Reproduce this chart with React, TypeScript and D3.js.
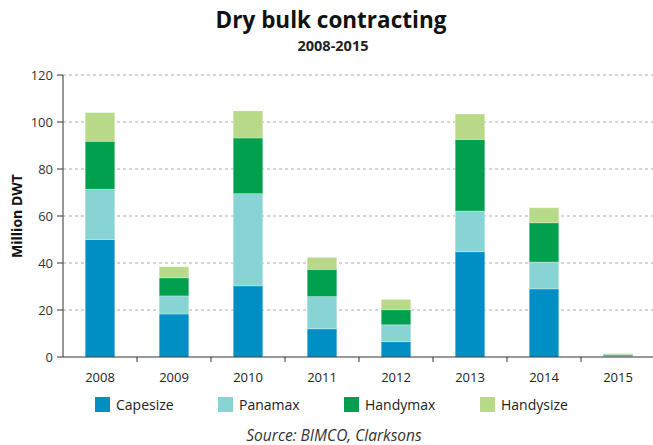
import React from "react";
import * as d3 from "d3";

const years = ["2008", "2009", "2010", "2011", "2012", "2013", "2014", "2015"];
const capesize = [50, 18.3, 30.3, 12, 6.5, 44.8, 29, 0.3];
const panamax = [21.4, 7.7, 39.2, 13.7, 7.2, 17.3, 11.4, 0.2];
const handymax = [20.4, 7.7, 23.7, 11.6, 6.4, 30.5, 16.7, 0.6];
const handysize = [12.2, 4.7, 11.5, 5.1, 4.4, 10.8, 6.4, 0.3];
const seriesNames = ["Capesize", "Panamax", "Handymax", "Handysize"];
const colors = ["#008FC5", "#88D3D3", "#00A04F", "#B8D987"];
const yTicks = [0, 20, 40, 60, 80, 100, 120];

const W = 653, H = 445;
const m = { left: 63, right: 655, top: 75, bottom: 357 };
const font = "'Open Sans', 'DejaVu Sans', sans-serif";

export default function App() {
  const x = d3.scaleBand().domain(years).range([m.left, m.right]).paddingInner(0.6).paddingOuter(0.3);
  const xb = d3.scaleBand().domain(years).range([m.left, m.right]);
  const y = d3.scaleLinear().domain([0, 120]).range([m.bottom, m.top]);
  const rows = years.map((yr, i) => ({ year: yr, Capesize: capesize[i], Panamax: panamax[i], Handymax: handymax[i], Handysize: handysize[i] }));
  const stacked = d3.stack<any>().keys(seriesNames)(rows);
  const legendX = [95, 218, 344, 480];
  return (
    <svg width={W} height={H} style={{ position: "absolute", left: 0, top: 0, background: "#fff" }}>
      <text x={331} y={28} textAnchor="middle" fontFamily={font} fontWeight="bold" fontSize={22.5} fill="#111">Dry bulk contracting</text>
      <text x={333} y={51} textAnchor="middle" fontFamily={font} fontWeight="bold" fontSize={14.5} fill="#222">2008-2015</text>
      {yTicks.map((t) => (
        <g key={t}>
          {t > 0 && <line x1={m.left} x2={m.right} y1={y(t)} y2={y(t)} stroke="#aaa" strokeDasharray="3,3" strokeWidth={1} />}
          <line x1={57} x2={m.left} y1={y(t)} y2={y(t)} stroke="#333" />
          <text x={53} y={y(t) + 4.5} textAnchor="end" fontFamily={font} fontSize={13} fill="#333">{t}</text>
        </g>
      ))}
      {stacked.map((s, si) => (
        <g key={si}>
          {s.map((d, i) => (
            <rect key={i} x={x(years[i])} width={x.bandwidth()} y={y(d[1])} height={Math.max(0, y(d[0]) - y(d[1]))} fill={colors[si]} stroke="#ffffff" strokeOpacity={0.35} strokeWidth={0.8} />
          ))}
        </g>
      ))}
      <line x1={m.left} x2={m.left} y1={m.top} y2={m.bottom} stroke="#333" />
      <line x1={m.left} x2={m.right} y1={m.bottom} y2={m.bottom} stroke="#333" />
      {years.map((yr) => (
        <g key={yr}>
          <line x1={(xb(yr) as number) + xb.bandwidth()} x2={(xb(yr) as number) + xb.bandwidth()} y1={m.bottom} y2={m.bottom + 5} stroke="#333" />
          <text x={(xb(yr) as number) + xb.bandwidth() / 2} y={382} textAnchor="middle" fontFamily={font} fontSize={13} fill="#222">{yr}</text>
        </g>
      ))}
      <text transform={`translate(22,${(m.top + m.bottom) / 2}) rotate(-90)`} textAnchor="middle" fontFamily={font} fontWeight="bold" fontSize={14} fill="#111">Million DWT</text>
      {seriesNames.map((n, i) => (
        <g key={n}>
          <rect x={legendX[i]} y={397} width={15} height={15} fill={colors[i]} />
          <text x={legendX[i] + 21} y={410} fontFamily={font} fontSize={14} fill="#222">{n}</text>
        </g>
      ))}
      <text x={334} y={441} textAnchor="middle" fontFamily={font} fontStyle="italic" fontSize={15.5} fill="#333">Source: BIMCO, Clarksons</text>
    </svg>
  );
}
